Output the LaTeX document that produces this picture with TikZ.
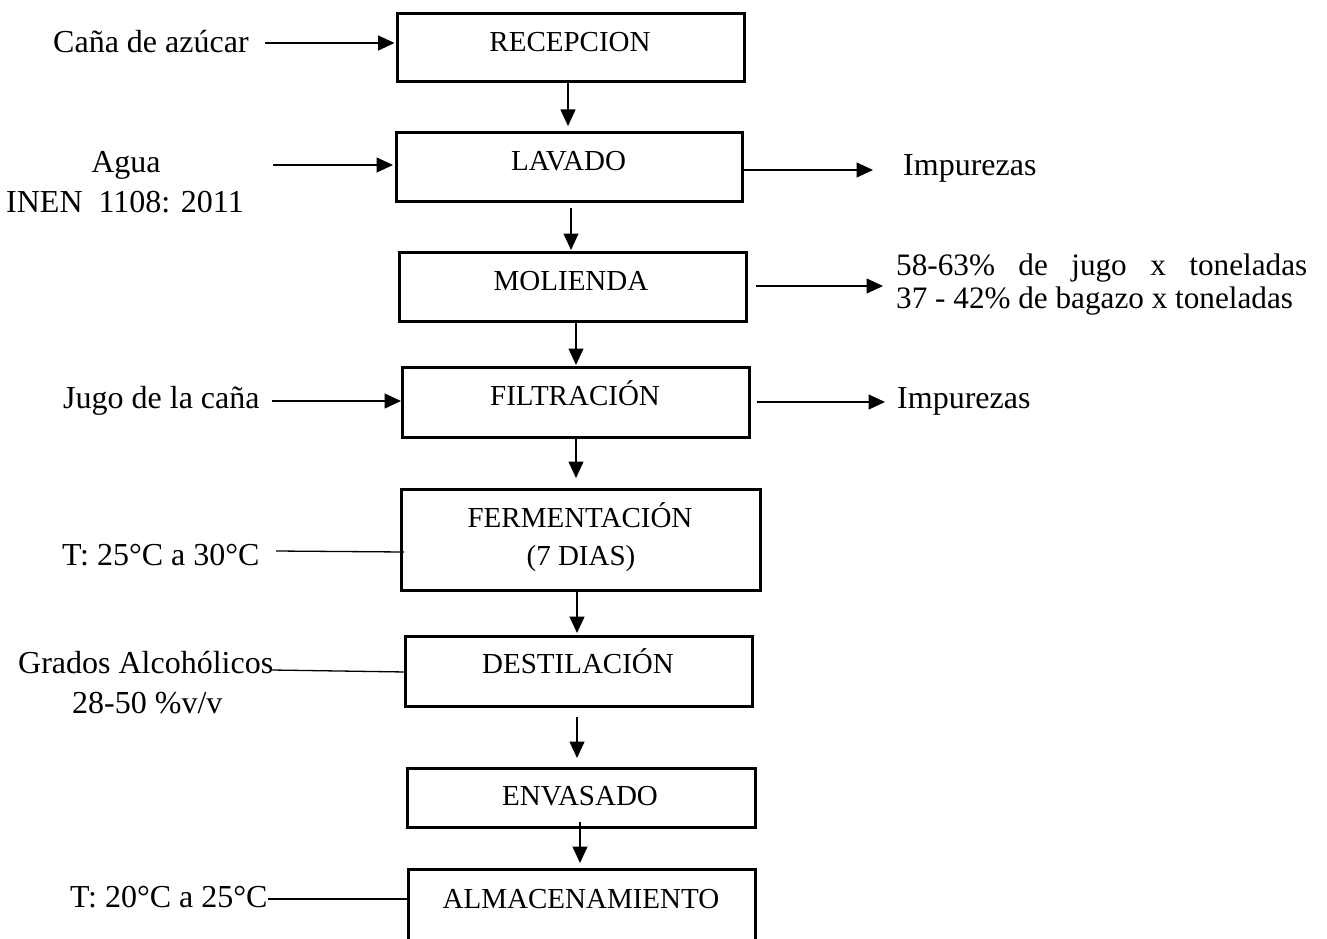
\documentclass[tikz,border=0pt]{standalone}
\usepackage{fontspec}
\setmainfont{Liberation Serif}
\usetikzlibrary{arrows.meta,calc}
\begin{document}
\begin{tikzpicture}[x=1pt,y=-1pt,
  box/.style={draw, line width=2.8pt, inner sep=0pt, outer sep=0pt},
  btxt/.style={font=\fontsize{29}{35}\selectfont, inner sep=0pt, anchor=base},
  lbl/.style={font=\fontsize{32}{38}\selectfont, inner sep=0pt, anchor=base west},
  rlbl/.style={font=\fontsize{31.2}{36}\selectfont, inner sep=0pt, anchor=base west},
  arr/.style={line width=1.3pt, -{Triangle[length=16.5pt,width=15pt]}},
  ln/.style={line width=1.3pt}]
\useasboundingbox (0,0) rectangle (1327,939);
\clip (0,0) rectangle (1327,939);

% boxes
\node[box, minimum width=347pt, minimum height=68pt] (recep) at (571,47.5) {};
\node[box, minimum width=346pt, minimum height=69pt] (lavado) at (569.5,167) {};
\node[box, minimum width=347pt, minimum height=69pt] (moli) at (573,287) {};
\node[box, minimum width=347pt, minimum height=70pt] (filt) at (576,402.5) {};
\node[box, minimum width=359pt, minimum height=101pt] (ferm) at (581,540) {};
\node[box, minimum width=347pt, minimum height=70pt] (dest) at (579,671.5) {};
\node[box, minimum width=348pt, minimum height=59pt] (env) at (581.5,798) {};
\node[box, minimum width=347pt, minimum height=90.5pt] (alm) at (582,914.75) {};

% box texts
\node[btxt] (trecep) at (570,51.7) {RECEPCION};
\node[btxt] (tlavado) at (568.5,170) {LAVADO};
\node[btxt] (tmoli) at (571,290) {MOLIENDA};
\node[btxt] (tfilt) at (575,405) {FILTRACIÓN};
\node[btxt] (tferm) at (580,527) {FERMENTACIÓN};
\node[btxt] (tdias) at (581,565) {(7 DIAS)};
\node[btxt] (tdest) at (578,673) {DESTILACIÓN};
\node[btxt] (tenv) at (580,805) {ENVASADO};
\node[btxt] (talm) at (581,908) {ALMACENAMIENTO};

% left labels
\node[lbl] (cana) at (53,53) {Caña de azúcar};
\node[lbl, anchor=base] (agua) at (126,172) {Agua};
\node[lbl, anchor=base] (inen) at (125,212) {INEN\ \ 1108: 2011};
\node[lbl] (jugo) at (63,408) {Jugo de la caña};
\node[lbl] (temp1) at (62,565) {T: 25°C a 30°C};
\node[lbl] (grados) at (18,673) {Grados Alcohólicos};
\node[lbl] (vv) at (72,713) {28-50 \%v/v};
\node[lbl] (temp2) at (70,907) {T: 20°C a 25°C};

% right labels
\node[lbl] (imp1) at (903,175) {Impurezas};
\node[rlbl] (rend1) at (896,275) {\makebox[411pt][s]{58-63\% de jugo x toneladas}};
\node[rlbl] (rend2) at (896,308) {37 - 42\% de bagazo x toneladas};
\node[lbl] (imp2) at (897,408) {Impurezas};

% vertical flow arrows
\draw[arr] ([xshift=-3pt]recep.south) -- ([xshift=-1.5pt,yshift=6.5pt]lavado.north);
\draw[arr] ([xshift=1.5pt,yshift=-6.5pt]lavado.south) -- ([xshift=-2pt,yshift=2.5pt]moli.north);
\draw[arr] ([xshift=3pt]moli.south) -- ([yshift=2.5pt]filt.north);
\draw[arr] (filt.south) -- ([xshift=-5pt,yshift=11.5pt]ferm.north);
\draw[arr] ([xshift=-4pt]ferm.south) -- ([xshift=-2pt,yshift=3.5pt]dest.north);
\draw[arr] ([xshift=-2pt,yshift=-10.5pt]dest.south) -- ([xshift=-4.5pt,yshift=10.5pt]env.north);
\draw[arr] ([xshift=-1.5pt,yshift=5.5pt]env.south) -- ([xshift=-2pt,yshift=6.5pt]alm.north);

% input arrows
\coordinate (c1) at (265,43);
\draw[arr] (c1) -- ($(c1 -| recep.west)+(-3,0)$);
\coordinate (c2) at (273,165);
\draw[arr] (c2) -- ($(c2 -| lavado.west)+(-3.5,0)$);
\coordinate (c3) at (272,401);
\draw[arr] (c3) -- ($(c3 -| filt.west)+(-1.5,0)$);

% output arrows
\coordinate (o1) at (873,170);
\draw[arr] (o1 -| lavado.east) -- (o1);
\coordinate (o2) at (883,286);
\draw[arr] ($(o2 -| moli.east)+(9,0)$) -- (o2);
\coordinate (o3) at (885,402);
\draw[arr] ($(o3 -| filt.east)+(7,0)$) -- (o3);

% condition lines
\coordinate (l1) at (276,551);
\draw[ln] (l1) -- ($(l1 -| ferm.west)+(2.5,1)$);
\coordinate (l2) at (272,670);
\draw[ln] (l2) -- ($(l2 -| dest.west)+(0.5,2)$);
\coordinate (l3) at (268,899);
\draw[ln] (l3) -- (l3 -| alm.west);
\end{tikzpicture}
\end{document}
